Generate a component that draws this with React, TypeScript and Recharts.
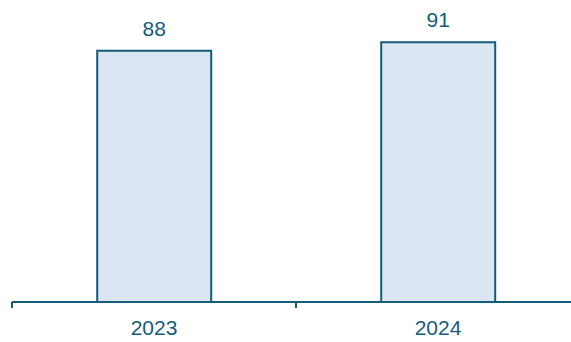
import { BarChart, Bar, XAxis, YAxis, LabelList } from 'recharts';

const years = ['2023', '2024'];
const values = [88, 91];

const data = years.map((year, i) => ({ year, value: values[i] }));

const teal = '#135d78';

// tick marks sit on the category boundaries, label stays centred;
// the first tick also draws the baseline so it runs to the right edge
const BoundaryTick = (props: any) => {
  const { x, y, payload, index } = props;
  const bx = x - (payload.offset ?? 0);
  const axisY = y - 8;
  return (
    <g>
      {index === 0 && <line x1={bx} y1={axisY} x2={bx + 700} y2={axisY} stroke={teal} strokeWidth={2} />}
      <line x1={bx} y1={axisY} x2={bx} y2={y - 2} stroke={teal} strokeWidth={2} />
      <text x={x} y={y + 10} dy="0.71em" textAnchor="middle" fill={teal} fontSize={21}>
        {payload.value}
      </text>
    </g>
  );
};

export default function App() {
  return (
    <div style={{ width: 571, height: 342, overflow: 'hidden', fontFamily: 'Arial, "Liberation Sans", sans-serif' }}>
      <style>{'html, body { margin: 0; overflow: hidden; } svg { overflow: visible; }'}</style>
      <BarChart
        width={571}
        height={342}
        data={data}
        margin={{ top: 16.5, right: -9, bottom: 10, left: 12 }}
        barCategoryGap="30%"
        style={{ overflow: 'visible' }}
      >
        <XAxis
          dataKey="year"
          axisLine={false}
          tickLine={false}
          tickSize={6}
          tick={<BoundaryTick />}
          interval={0}
        />
        <YAxis hide domain={[0, 100]} />
        <Bar
          dataKey="value"
          fill="#dce6f2"
          stroke={teal}
          strokeWidth={2}
          isAnimationActive={false}
        >
          <LabelList dataKey="value" position="top" offset={15} fill={teal} fontSize={21} />
        </Bar>
      </BarChart>
    </div>
  );
}
